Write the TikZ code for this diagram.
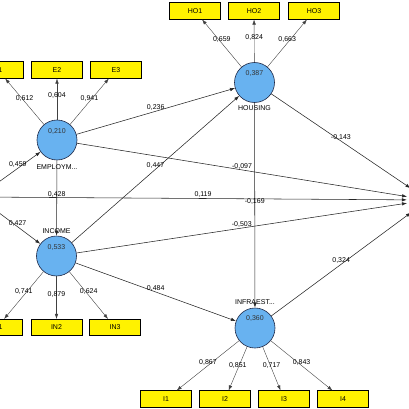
\documentclass[tikz,border=0pt]{standalone}
\usepackage{fontspec}
\setmainfont{Liberation Sans}
\usetikzlibrary{arrows.meta}
\definecolor{lvblue}{RGB}{104,178,240}
\definecolor{lvline}{RGB}{30,40,70}
\begin{document}
\begin{tikzpicture}[x=1pt,y=-1pt,
  lv/.style={circle, draw=lvline, fill=lvblue, minimum size=40pt, inner sep=0pt, line width=0.6pt},
  hid/.style={circle, draw=none, fill=none, minimum size=42pt, inner sep=0pt},
  ind/.style={draw=black, fill=yellow, minimum width=51pt, minimum height=16.5pt, inner sep=0pt, line width=0.6pt, font=\fontsize{7}{8}\selectfont},
  val/.style={font=\fontsize{7}{8}\selectfont, text=black!80, inner sep=0pt},
  nm/.style={font=\fontsize{7}{8}\selectfont, inner sep=0pt},
  pth/.style={-{Latex[length=5pt,width=3.5pt]}, line width=0.55pt, draw=black!85},
  ld/.style={-{Latex[length=5pt,width=3.5pt]}, line width=0.4pt, draw=black!75},
  lbl/.style={font=\fontsize{7}{8}\selectfont, inner sep=0pt, yshift=3.5pt}]
\useasboundingbox (0,0) rectangle (409,409);

% latent variables
\node[lv] (emp) at (57,140) {};
\node[lv] (hou) at (254.5,82.5) {};
\node[lv] (inc) at (56.5,256) {};
\node[lv] (inf) at (255,328) {};
\node[hid] (src) at (-22,197) {};
\node[hid] (tgt) at (428,200) {};

\node[val] (empv) at ([yshift=8pt]emp.center) {0,210};
\node[val] (houv) at ([yshift=9pt]hou.center) {0,387};
\node[val] (incv) at ([yshift=8pt]inc.center) {0,533};
\node[val] (infv) at ([yshift=9pt]inf.center) {0,360};

\node[nm] (empn) at (57,167) {EMPLOYM...};
\node[nm] (houn) at (254.5,108) {HOUSING};
\node[nm] (incn) at (56.5,231) {INCOME};
\node[nm] (infn) at (255,302) {INFRAEST...};

% indicators
\node[ind] (e1) at (-2,70) {E1};
\node[ind] (e2) at (57,70) {E2};
\node[ind] (e3) at (116,70) {E3};
\node[ind] (h1) at (195,11) {HO1};
\node[ind] (h2) at (254,11) {HO2};
\node[ind] (h3) at (314,11) {HO3};
\node[ind] (n1) at (-3,327.5) {IN1};
\node[ind] (n2) at (56.5,327.5) {IN2};
\node[ind] (n3) at (115,327.5) {IN3};
\node[ind] (i1) at (166,399) {I1};
\node[ind] (i2) at (225,399) {I2};
\node[ind] (i3) at (284,399) {I3};
\node[ind] (i4) at (343,399) {I4};

% loadings
\draw[ld] (emp) -- (e1) node[lbl,midway] {0,612};
\draw[ld] (emp) -- (e2) node[lbl,midway] {0,604};
\draw[ld] (emp) -- (e3) node[lbl,midway] {0,941};
\draw[ld] (hou) -- (h1) node[lbl,midway] {0,659};
\draw[ld] (hou) -- (h2) node[lbl,midway] {0,824};
\draw[ld] (hou) -- (h3) node[lbl,midway] {0,663};
\draw[ld] (inc) -- (n1) node[lbl,midway] {0,741};
\draw[ld] (inc) -- (n2) node[lbl,midway] {0,879};
\draw[ld] (inc) -- (n3) node[lbl,midway] {0,624};
\draw[ld] (inf) -- (i1) node[lbl,midway] {0,867};
\draw[ld] (inf) -- (i2) node[lbl,midway] {0,851};
\draw[ld] (inf) -- (i3) node[lbl,midway] {0,717};
\draw[ld] (inf) -- (i4) node[lbl,midway] {0,843};

% structural paths
\draw[pth] (src) -- (emp) node[lbl,midway] {0,459};
\draw[pth] (src) -- (inc) node[lbl,midway] {0,427};
\draw[pth] (src) -- (tgt) node[lbl,midway] {0,119};
\draw[pth] (emp) -- (inc) node[lbl,midway] {0,428};
\draw[pth] (emp) -- (hou) node[lbl,midway] {0,236};
\draw[pth] (emp) -- (tgt) node[lbl,midway] {-0,097};
\draw[pth] (inc) -- (hou) node[lbl,midway] {0,447};
\draw[pth] (inc) -- (tgt) node[lbl,midway] {-0,503};
\draw[pth] (inc) -- (inf) node[lbl,midway] {0,484};
\draw[pth] (hou) -- (inf) node[lbl,midway] {-0,169};
\draw[pth] (hou) -- (tgt) node[lbl,midway] {-0,143};
\draw[pth] (inf) -- (tgt) node[lbl,midway] {0,324};
\end{tikzpicture}
\end{document}
